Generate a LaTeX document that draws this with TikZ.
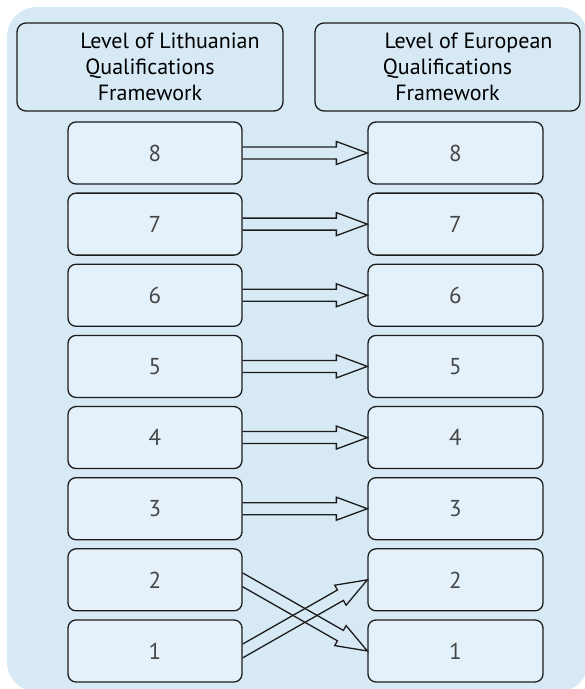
\documentclass[tikz,border=0pt]{standalone}
\usepackage{fontspec}
\setmainfont{PT Sans}
\usetikzlibrary{calc}
\definecolor{bgblue}{RGB}{215,233,245}
\definecolor{boxblue}{RGB}{228,241,250}
\definecolor{edgecol}{RGB}{28,28,28}
\definecolor{digitcol}{RGB}{70,70,70}
\tikzset{
  levelbox/.style={draw=edgecol, fill=boxblue, line width=1.3pt, rounded corners=8pt,
    minimum width=174pt, minimum height=62pt, inner sep=0pt,
    font=\fontsize{23}{26}\selectfont, text=digitcol},
  headbox/.style={draw=edgecol, fill=bgblue, line width=1.3pt, rounded corners=9pt,
    minimum width=266pt, minimum height=88pt, inner sep=0pt, align=center,
    font=\fontsize{22}{26}\selectfont, text=black},
  hollow/.style={draw=edgecol, line width=1.3pt, line join=miter},
}
\newcommand\hollowarrow[3]{%
  \path ($(#2)!31pt!(#1)$) coordinate (hb);
  \draw[hollow] ($(#1)+(0,#3)$) -- ($(hb)!6pt!90:(#2)$) -- ($(hb)!11.5pt!90:(#2)$)
    -- (#2) -- ($(hb)!11.5pt!-90:(#2)$) -- ($(hb)!6pt!-90:(#2)$) -- ($(#1)-(0,#3)$);
}
\begin{document}
\begin{tikzpicture}[x=1pt,y=1pt]
\useasboundingbox (0,0) rectangle (585,689);
\fill[bgblue, rounded corners=30pt] (7,-3) rectangle (588,682);
\node[headbox] (HL) at (150,622) {\hspace*{40pt}Level of Lithuanian\\Qualifications\\Framework};
\node[headbox, minimum width=265pt] (HE) at (447.5,622) {\hspace*{42pt}Level of European\\Qualifications\\Framework};
\foreach \k in {1,...,8}{
  \node[levelbox] (L\k) at (155,{536-(8-\k)*71.14}) {\k};
  \node[levelbox, minimum width=175pt] (E\k) at (455.5,{536-(8-\k)*71.14}) {\k};
}
\foreach \k in {3,...,8}{
  \hollowarrow{L\k.east}{E\k.west}{6pt}
}
\hollowarrow{L2.east}{E1.west}{6.9pt}
\hollowarrow{L1.east}{E2.west}{6.9pt}
\end{tikzpicture}
\end{document}
